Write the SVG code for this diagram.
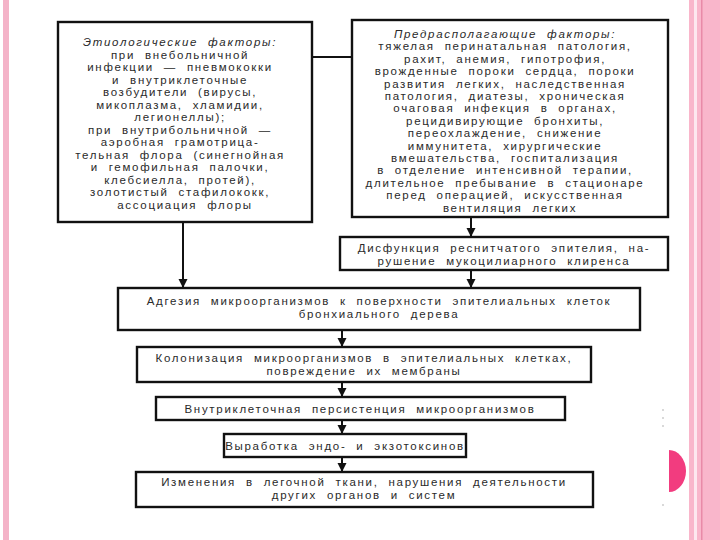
<svg xmlns="http://www.w3.org/2000/svg" width="720" height="540" viewBox="0 0 720 540">
<defs>
<style>
.box{fill:#fff;stroke:#111;stroke-width:2.4}
.t{font-family:"Liberation Sans",Arial,sans-serif;font-size:11.5px;fill:#2a2a2a;text-anchor:middle;letter-spacing:1.7px;word-spacing:5px}
.it{font-style:italic}
.c{stroke:#111;stroke-width:2;fill:none}
</style>
<marker id="ah" viewBox="0 0 10 10" refX="10" refY="5" markerWidth="4.5" markerHeight="5" orient="auto" markerUnits="strokeWidth">
<path d="M0,0 L10,5 L0,10 Z" fill="#111"/>
</marker>
</defs>
<rect width="720" height="540" fill="#fff"/>
<rect x="3" y="0" width="6" height="540" fill="#f4b3c8"/>
<rect x="689" y="0" width="31" height="540" fill="#f9b6cb"/>
<rect x="694" y="0" width="3" height="540" fill="#fde8ef"/>
<rect x="701" y="0" width="1.5" height="540" fill="#e98aa8"/>
<path d="M669,450 A17,21 0 0 1 669,492 Z" fill="#f23c7f"/>
<g fill="#ccc">
<circle cx="663" cy="410" r="1"/><circle cx="663" cy="418" r="1"/><circle cx="663" cy="426" r="1"/><circle cx="663" cy="505" r="1"/>
</g>
<g id="connectors">
<line class="c" x1="312" y1="57" x2="352" y2="57"/>
<line class="c" x1="183" y1="222" x2="183" y2="288" marker-end="url(#ah)"/>
<line class="c" x1="471" y1="217" x2="471" y2="237" marker-end="url(#ah)"/>
<line class="c" x1="471" y1="270" x2="471" y2="288" marker-end="url(#ah)"/>
<line class="c" x1="342" y1="330" x2="342" y2="347" marker-end="url(#ah)"/>
<line class="c" x1="342" y1="382" x2="342" y2="397" marker-end="url(#ah)"/>
<line class="c" x1="342" y1="420" x2="342" y2="434" marker-end="url(#ah)"/>
<line class="c" x1="342" y1="457" x2="342" y2="472" marker-end="url(#ah)"/>
</g>
<g id="etiology">
<rect class="box" x="58" y="22" width="254" height="200"/>
<text class="t" x="185" y="46"><tspan class="it">Этиологические факторы:</tspan>
<tspan x="185" dy="12.5">при внебольничной</tspan>
<tspan x="185" dy="12.5">инфекции — пневмококки</tspan>
<tspan x="185" dy="12.5">и внутриклеточные</tspan>
<tspan x="185" dy="12.5">возбудители (вирусы,</tspan>
<tspan x="185" dy="12.5">микоплазма, хламидии,</tspan>
<tspan x="185" dy="12.5">легионеллы);</tspan>
<tspan x="185" dy="12.5">при внутрибольничной —</tspan>
<tspan x="185" dy="12.5">аэробная грамотрица-</tspan>
<tspan x="185" dy="12.5">тельная флора (синегнойная</tspan>
<tspan x="185" dy="12.5">и гемофильная палочки,</tspan>
<tspan x="185" dy="12.5">клебсиелла, протей),</tspan>
<tspan x="185" dy="12.5">золотистый стафилококк,</tspan>
<tspan x="185" dy="12.5">ассоциация флоры</tspan></text>
</g>
<g id="predisposing">
<rect class="box" x="352" y="20" width="316" height="197"/>
<text class="t" x="510" y="38"><tspan class="it">Предрасполагающие факторы:</tspan>
<tspan x="510" dy="12.4">тяжелая перинатальная патология,</tspan>
<tspan x="510" dy="12.4">рахит, анемия, гипотрофия,</tspan>
<tspan x="510" dy="12.4">врожденные пороки сердца, пороки</tspan>
<tspan x="510" dy="12.4">развития легких, наследственная</tspan>
<tspan x="510" dy="12.4">патология, диатезы, хроническая</tspan>
<tspan x="510" dy="12.4">очаговая инфекция в органах,</tspan>
<tspan x="510" dy="12.4">рецидивирующие бронхиты,</tspan>
<tspan x="510" dy="12.4">переохлаждение, снижение</tspan>
<tspan x="510" dy="12.4">иммунитета, хирургические</tspan>
<tspan x="510" dy="12.4">вмешательства, госпитализация</tspan>
<tspan x="510" dy="12.4">в отделение интенсивной терапии,</tspan>
<tspan x="510" dy="12.4">длительное пребывание в стационаре</tspan>
<tspan x="510" dy="12.4">перед операцией, искусственная</tspan>
<tspan x="510" dy="12.4">вентиляция легких</tspan></text>
</g>
<g id="dysfunction">
<rect class="box" x="340" y="237" width="328" height="33"/>
<text class="t" x="504" y="252">Дисфункция реснитчатого эпителия, на-<tspan x="504" dy="12.5">рушение мукоцилиарного клиренса</tspan></text>
</g>
<g id="adhesion">
<rect class="box" x="118" y="288" width="522" height="42"/>
<text class="t" x="379" y="305">Адгезия микроорганизмов к поверхности эпителиальных клеток<tspan x="379" dy="13">бронхиального дерева</tspan></text>
</g>
<g id="colonization">
<rect class="box" x="137" y="347" width="454" height="35"/>
<text class="t" x="364" y="362">Колонизация микроорганизмов в эпителиальных клетках,<tspan x="364" dy="13">повреждение их мембраны</tspan></text>
</g>
<g id="persistence">
<rect class="box" x="156" y="397" width="409" height="23"/>
<text class="t" x="360" y="413">Внутриклеточная персистенция микроорганизмов</text>
</g>
<g id="toxins">
<rect class="box" x="224" y="434" width="242" height="23"/>
<text class="t" x="345" y="450">Выработка эндо- и экзотоксинов</text>
</g>
<g id="changes">
<rect class="box" x="136" y="472" width="457" height="35"/>
<text class="t" x="364" y="486">Изменения в легочной ткани, нарушения деятельности<tspan x="364" dy="13">других органов и систем</tspan></text>
</g>
</svg>
